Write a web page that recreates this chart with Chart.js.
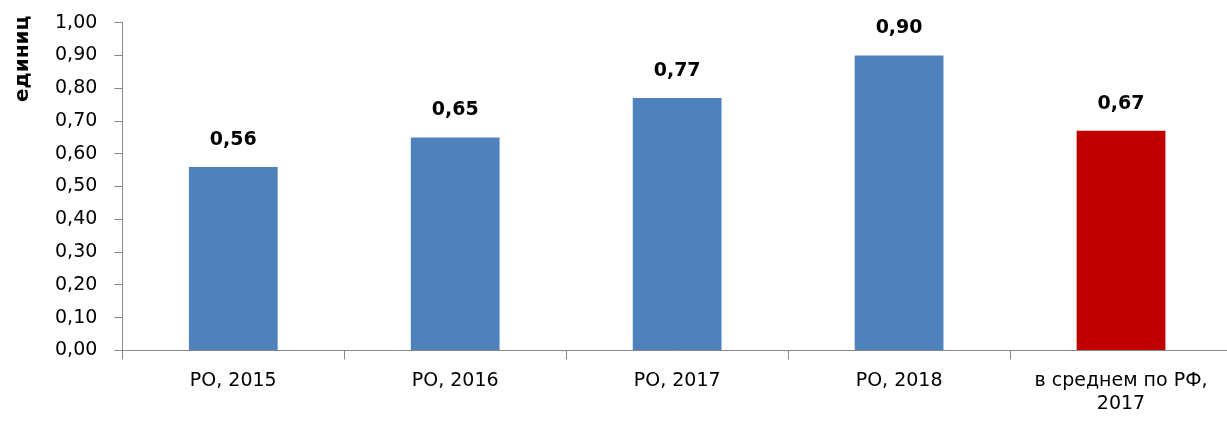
<!DOCTYPE html>
<html><head><meta charset="utf-8">
<script src="https://cdn.jsdelivr.net/npm/chart.js@4/dist/chart.umd.min.js"></script>
<style>
html,body{margin:0;padding:0;background:#fff;overflow:hidden;}
#wrap{width:1240px;height:425px;position:relative;}
</style></head><body>
<div id="wrap"><canvas id="c"></canvas></div>
<script>
const categories = ["РО, 2015", "РО, 2016", "РО, 2017", "РО, 2018", ["в среднем по РФ,", "2017"]];
const values = [0.56, 0.65, 0.77, 0.90, 0.67];
const barColors = ["#4F81BD", "#4F81BD", "#4F81BD", "#4F81BD", "#C00000"];
const yTitle = "единиц";

const FONT = "'DejaVu Sans', sans-serif";
const fmt = v => v.toFixed(2).replace('.', ',');

const labelPlugin = {
  id: 'valLabels',
  afterDatasetsDraw(chart) {
    const ctx = chart.ctx;
    const meta = chart.getDatasetMeta(0);
    ctx.save();
    ctx.font = "bold 19px " + FONT;
    ctx.fillStyle = "#000";
    ctx.textAlign = "center";
    ctx.textBaseline = "middle";
    meta.data.forEach((bar, i) => {
      ctx.fillText(fmt(values[i]), bar.x, bar.y - 27);
    });
    // y-axis title, placed near the top of the axis like the original
    const area = chart.chartArea;
    ctx.font = "bold 20px " + FONT;
    ctx.translate(23, area.top - 7);
    ctx.rotate(-Math.PI / 2);
    ctx.textAlign = "right";
    ctx.fillText(yTitle, 0, 0);
    ctx.restore();
  }
};

new Chart(document.getElementById('c'), {
  type: 'bar',
  data: {
    labels: categories,
    datasets: [{
      data: values,
      backgroundColor: barColors,
      borderWidth: 0,
      categoryPercentage: 0.4,
      barPercentage: 1.0
    }]
  },
  options: {
    responsive: true,
    maintainAspectRatio: false,
    animation: false,
    layout: { padding: { top: 14, right: 8, left: 38, bottom: 0 } },
    plugins: { legend: { display: false }, tooltip: { enabled: false } },
    scales: {
      x: {
        offset: true,
        grid: { offset: true, drawOnChartArea: false, drawTicks: true, tickLength: 9, color: '#888', tickColor: '#888' },
        border: { display: true, color: '#888', width: 1 },
        ticks: { color: '#000', font: { family: FONT, size: 19 }, padding: 10, maxRotation: 0, autoSkip: false }
      },
      y: {
        min: 0, max: 1,
        grid: { drawOnChartArea: false, drawTicks: true, tickLength: 8, color: '#888', tickColor: '#888' },
        border: { display: true, color: '#888', width: 1 },
        ticks: { stepSize: 0.1, color: '#000', font: { family: FONT, size: 19, lineHeight: 0.6 }, padding: 17, callback: v => fmt(v) }
      }
    }
  },
  plugins: [labelPlugin]
});
</script>
</body></html>
